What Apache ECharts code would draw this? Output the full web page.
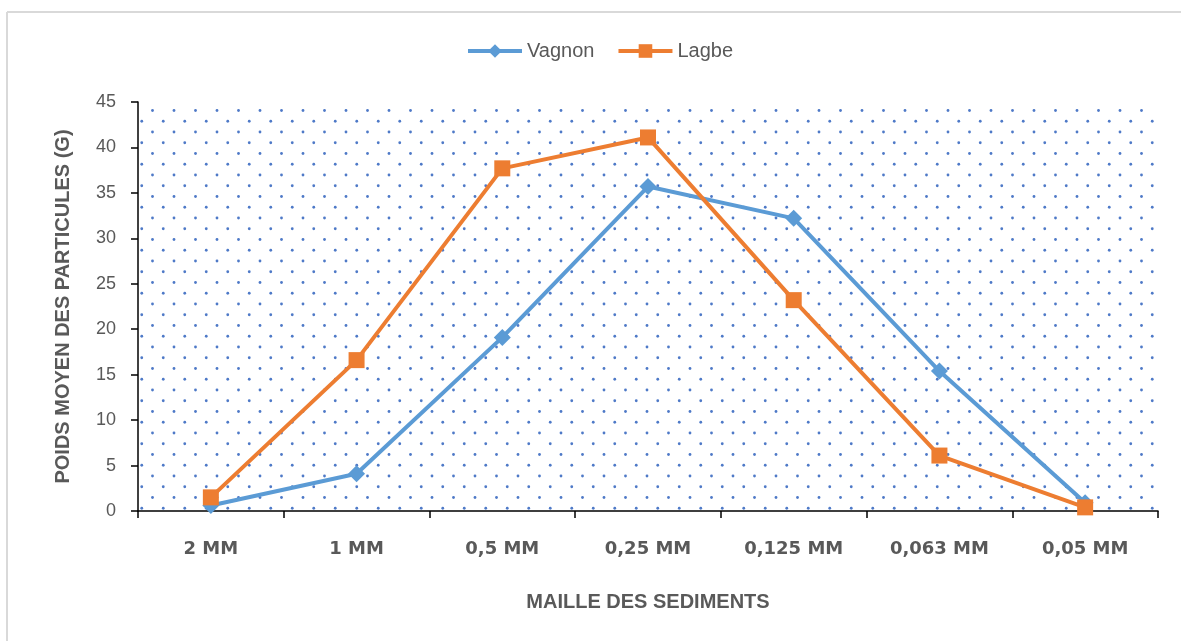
<!DOCTYPE html>
<html>
<head>
<meta charset="utf-8">
<script src="https://cdn.jsdelivr.net/npm/echarts@6/dist/echarts.min.js"></script>
<style>
html,body{margin:0;padding:0;background:#fff;}
#chart{width:1181px;height:641px;}
</style>
</head>
<body>
<div id="chart"></div>
<script>
const categories = ['2 MM', '1 MM', '0,5 MM', '0,25 MM', '0,125 MM', '0,063 MM', '0,05 MM'];
const vagnon = [0.6, 4.1, 19.1, 35.7, 32.2, 15.4, 0.9];
const lagbe = [1.5, 16.6, 37.7, 41.1, 23.2, 6.1, 0.4];
const yTicks = [0, 5, 10, 15, 20, 25, 30, 35, 40, 45];

// dotted pattern tile
const tile = document.createElement('canvas');
tile.width = 43; tile.height = 43;
const ctx = tile.getContext('2d');
ctx.fillStyle = 'rgba(68,114,196,0.95)';
const pts = [[2,3],[23.5,3],[12.75,13.75],[34.25,13.75],[2,24.5],[23.5,24.5],[12.75,35.25],[34.25,35.25]];
pts.forEach(p => { ctx.beginPath(); ctx.arc(p[0], p[1], 1.4, 0, Math.PI*2); ctx.fill(); });

const chart = echarts.init(document.getElementById('chart'));
const txt = '#595959';
chart.setOption({
  animation: false,
  backgroundColor: '#fff',
  graphic: [
    {type:'line', shape:{x1:7, y1:12, x2:1181, y2:12}, style:{stroke:'#d9d9d9', lineWidth:2}},
    {type:'line', shape:{x1:7, y1:12, x2:7, y2:641}, style:{stroke:'#d9d9d9', lineWidth:2}}
  ],
  legend: {
    top: 36, left: 461,
    itemWidth: 54, itemHeight: 17, itemGap: 22,
    textStyle: {color: txt, fontSize: 20, fontFamily: 'Liberation Sans'},
    lineStyle: {width: 4},
    data: ['Vagnon', 'Lagbe']
  },
  grid: {
    left: 138, right: 23, top: 102, bottom: 130,
    show: true, borderWidth: 0,
    backgroundColor: {image: tile, repeat: 'repeat'}
  },
  xAxis: {
    type: 'category', data: categories, boundaryGap: true,
    axisLine: {lineStyle: {color: '#000', width: 1.5}},
    axisTick: {show: true, length: 7, lineStyle: {color: '#000', width: 1.5}},
    axisLabel: {color: txt, fontSize: 18, fontWeight: 'bold', fontFamily: 'DejaVu Sans', margin: 29, interval: 0},
    name: 'MAILLE DES SEDIMENTS', nameLocation: 'middle', nameGap: 81,
    nameTextStyle: {color: txt, fontSize: 20, fontWeight: 'bold', fontFamily: 'Liberation Sans'}
  },
  yAxis: {
    type: 'value', min: yTicks[0], max: yTicks[yTicks.length-1], interval: 5,
    splitLine: {show: false},
    axisLine: {show: true, lineStyle: {color: '#000', width: 1.5}},
    axisTick: {show: true, length: 7, lineStyle: {color: '#000', width: 1.5}},
    axisLabel: {color: txt, fontSize: 18, fontFamily: 'Liberation Sans', margin: 22},
    name: 'POIDS MOYEN DES PARTICULES (G)', nameLocation: 'middle', nameGap: 65,
    nameTextStyle: {color: txt, fontSize: 20, fontWeight: 'bold', fontFamily: 'Liberation Sans'}
  },
  series: [
    {name: 'Vagnon', type: 'line', data: vagnon, symbol: 'diamond', symbolSize: 17,
     lineStyle: {color: '#5b9bd5', width: 4}, itemStyle: {color: '#5b9bd5'}},
    {name: 'Lagbe', type: 'line', data: lagbe, symbol: 'rect', symbolSize: 16,
     lineStyle: {color: '#ed7d31', width: 4}, itemStyle: {color: '#ed7d31'}}
  ]
});
</script>
</body>
</html>
